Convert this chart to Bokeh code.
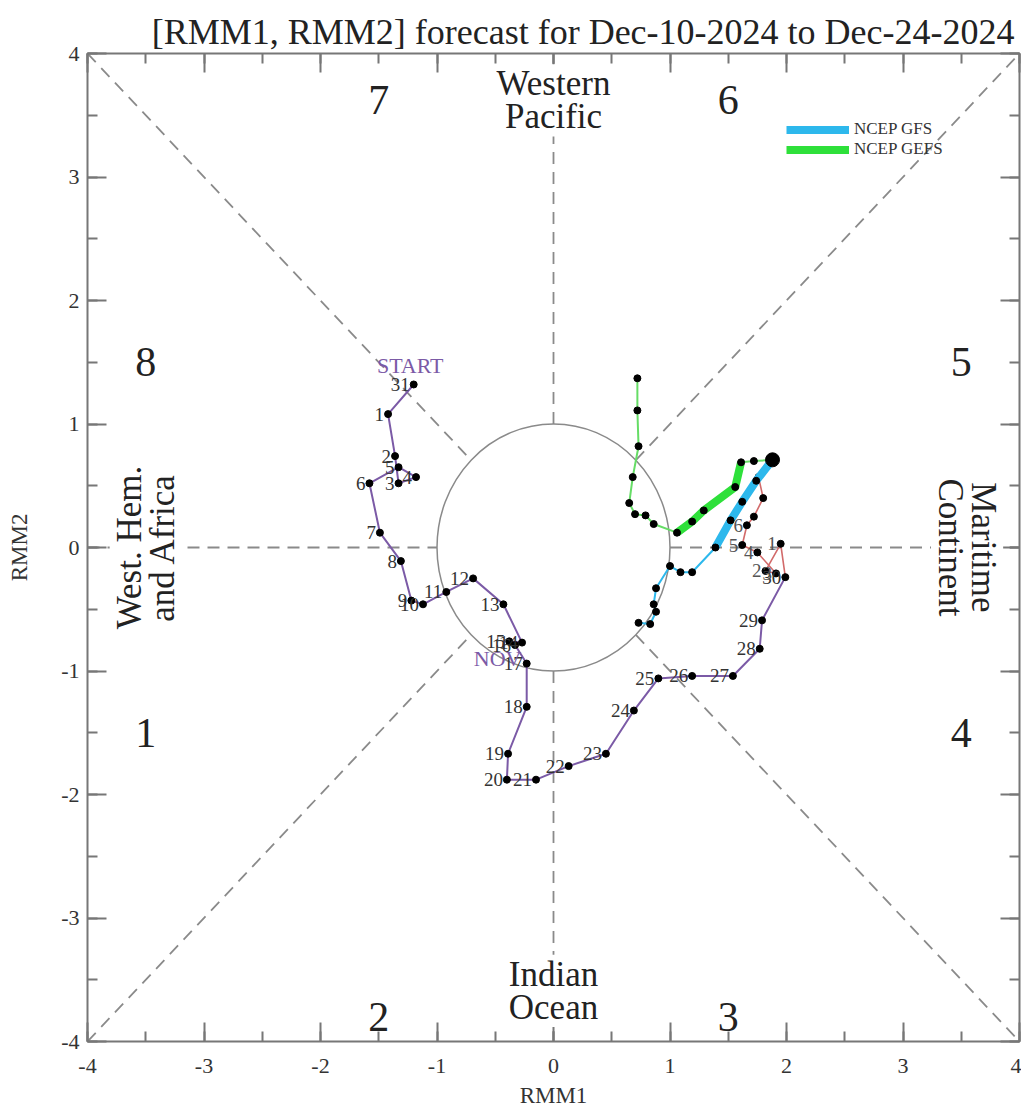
import numpy as np
from bokeh.plotting import figure
from bokeh.models import (Range1d, LinearAxis, SingleIntervalTicker, Label,
                          Legend, LegendItem)
from bokeh.core.properties import value
from bokeh.embed import file_html
from bokeh.resources import INLINE

FONT = "Liberation Serif"

# ---------------- data ----------------
title_text = "[RMM1, RMM2] forecast for Dec-10-2024 to Dec-24-2024"

# observed Oct-31 .. Nov-30 (purple)
nov_days = [31, 1, 2, 3, 4, 5, 6, 7, 8, 9, 10, 11, 12, 13, 14, 15, 16, 17, 18,
            19, 20, 21, 22, 23, 24, 25, 26, 27, 28, 29, 30]
nov_rmm1 = [-1.20, -1.42, -1.36, -1.33, -1.18, -1.33, -1.58, -1.49, -1.31, -1.22,
            -1.12, -0.92, -0.69, -0.43, -0.27, -0.38, -0.33, -0.23, -0.23, -0.39,
            -0.40, -0.15, 0.13, 0.45, 0.69, 0.90, 1.19, 1.54, 1.77, 1.79, 1.99]
nov_rmm2 = [1.32, 1.08, 0.74, 0.52, 0.57, 0.65, 0.52, 0.12, -0.11, -0.43,
            -0.46, -0.36, -0.25, -0.46, -0.77, -0.76, -0.79, -0.94, -1.29, -1.67,
            -1.88, -1.88, -1.77, -1.67, -1.32, -1.06, -1.04, -1.04, -0.82, -0.59, -0.24]

# observed Dec-1 .. Dec-10 (red)
dec_days = [1, 2, 3, 4, 5, 6, 7, 8, 9, 10]
dec_rmm1 = [1.95, 1.82, 1.91, 1.75, 1.62, 1.66, 1.72, 1.80, 1.76, 1.88]
dec_rmm2 = [0.03, -0.19, -0.21, -0.04, 0.02, 0.18, 0.25, 0.40, 0.57, 0.71]
dec_labelled = 6  # labels of later days are hidden under the forecasts

# NCEP GFS forecast
gfs_rmm1 = [1.88, 1.74, 1.62, 1.52, 1.39, 1.19, 1.09, 1.00, 0.88, 0.86, 0.88, 0.83, 0.73]
gfs_rmm2 = [0.71, 0.54, 0.37, 0.22, 0.00, -0.20, -0.20, -0.15, -0.33, -0.46, -0.52, -0.62, -0.61]

# NCEP GEFS forecast
gefs_rmm1 = [1.88, 1.72, 1.61, 1.56, 1.29, 1.19, 1.06, 0.86, 0.79, 0.70, 0.65, 0.68, 0.73, 0.72, 0.72]
gefs_rmm2 = [0.71, 0.70, 0.69, 0.49, 0.30, 0.21, 0.12, 0.19, 0.26, 0.27, 0.36, 0.57, 0.82, 1.11, 1.37]

phase_names = ["1", "2", "3", "4", "5", "6", "7", "8"]
phase_x = [-3.5, -1.5, 1.5, 3.5, 3.5, 1.5, -1.5, -3.5]
phase_y = [-1.5, -3.8, -3.8, -1.5, 1.5, 3.62, 3.62, 1.5]

region_names = ["Western\nPacific", "Indian\nOcean", "West. Hem.\nand Africa", "Maritime\nContinent"]
region_x = [0.0, 0.0, -3.5, 3.55]
region_y = [3.62, -3.59, 0.0, 0.0]
region_angle = [0.0, 0.0, np.pi / 2, -np.pi / 2]

tick_values = [-4, -3, -2, -1, 0, 1, 2, 3, 4]

# ---------------- figure ----------------
p = figure(frame_width=932, frame_height=988, x_range=Range1d(-4, 4), y_range=Range1d(-4, 4),
           output_backend="svg", toolbar_location=None,
           min_border_left=87, min_border_right=2, min_border_top=53, min_border_bottom=58,
           title=title_text)
p.title.align = "right"
p.title.offset = 5
p.title.standoff = 4
p.title.text_font = FONT
p.title.text_font_size = "36px"
p.title.text_font_style = "normal"
p.title.text_color = "#222222"

p.grid.visible = False
p.outline_line_color = "#777777"
p.outline_line_width = 2
p.background_fill_color = "white"
p.border_fill_color = "white"

top_axis = LinearAxis()
right_axis = LinearAxis()
p.add_layout(top_axis, "above")
p.add_layout(right_axis, "right")
bottom_axis = p.below[0]
left_axis = p.left[0]

for ax in [bottom_axis, left_axis, top_axis, right_axis]:
    ax.ticker = SingleIntervalTicker(interval=1, num_minor_ticks=2)
    ax.axis_line_color = None
    ax.major_tick_in = 19
    ax.major_tick_out = 0
    ax.minor_tick_in = 10
    ax.minor_tick_out = 0
    ax.major_tick_line_color = "#777777"
    ax.minor_tick_line_color = "#777777"
    ax.major_tick_line_width = 2
    ax.minor_tick_line_width = 2
    ax.major_label_text_font = FONT
    ax.major_label_text_font_size = "22px"
    ax.major_label_text_color = "#333333"
    ax.axis_label_text_font = FONT
    ax.axis_label_text_font_size = "23px"
    ax.axis_label_text_font_style = "normal"
    ax.axis_label_text_color = "#333333"

for ax in [bottom_axis, left_axis]:
    ax.major_label_overrides = {t: str(t) for t in tick_values}
for ax in [top_axis, right_axis]:
    ax.major_label_overrides = {t: "" for t in tick_values}
    ax.major_label_standoff = 0

bottom_axis.axis_label = "RMM1"
bottom_axis.major_label_standoff = 17
bottom_axis.axis_label_standoff = 7
left_axis.axis_label = "RMM2"
left_axis.major_label_standoff = 8
left_axis.axis_label_standoff = 26

# ---------------- structure: dashed phase dividers + unit circle ----------------
r = 1 / np.sqrt(2)
div_x0 = [-4, r, -4, r, -4, 1, 0, 0]
div_y0 = [4, r, -4, -r, 0, 0, 1, -1]
div_x1 = [-r, 4, -r, 4, -1, 4, 0, 0]
div_y1 = [r, 4, -r, -4, 0, 0, 4, -4]
p.segment(div_x0, div_y0, div_x1, div_y1, line_color="#8a8a8a", line_width=1.8,
          line_dash="12 8")
p.ellipse(x=[0], y=[0], width=[2], height=[2], fill_color=None,
          line_color="#8a8a8a", line_width=1.5)

# phase numbers
p.text(x=phase_x, y=phase_y, text=phase_names, text_font=value(FONT),
       text_font_size="42px", text_color="#222222", text_align="center",
       text_baseline="middle")

# region labels (white background covers dashes)
for name, rx, ry, ang in zip(region_names, region_x, region_y, region_angle):
    p.add_layout(Label(x=rx, y=ry, text=name, angle=ang, text_font=FONT,
                       text_font_size="35px", text_color="#222222",
                       text_align="center", text_baseline="middle",
                       background_fill_color="white", text_line_height=0.85))

# ---------------- observed tracks ----------------
purple = "#7b5aa6"
red = "#d26a6a"
p.line(nov_rmm1, nov_rmm2, line_color=purple, line_width=2)
p.line([nov_rmm1[-1]] + dec_rmm1, [nov_rmm2[-1]] + dec_rmm2, line_color=red, line_width=1.6)
p.scatter(nov_rmm1, nov_rmm2, size=7, color="black")
p.scatter(dec_rmm1, dec_rmm2, size=7, color="black")
p.text(x=nov_rmm1, y=nov_rmm2, text=[str(d) for d in nov_days], x_offset=-4,
       text_font=value(FONT), text_font_size="19px", text_color="#333333",
       text_align="right", text_baseline="middle")
p.text(x=dec_rmm1[:dec_labelled], y=dec_rmm2[:dec_labelled],
       text=[str(d) for d in dec_days[:dec_labelled]], x_offset=-4,
       text_font=value(FONT), text_font_size="19px", text_color="#555555",
       text_align="right", text_baseline="middle")

p.text(x=[nov_rmm1[0] - 0.03], y=[nov_rmm2[0] + 0.15], text=["START"],
       text_font=value(FONT), text_font_size="22px", text_color=purple,
       text_align="center", text_baseline="middle")
p.text(x=[nov_rmm1[17] - 0.25], y=[nov_rmm2[17] + 0.04], text=["NOV"],
       text_font=value(FONT), text_font_size="22px", text_color=purple,
       text_align="center", text_baseline="middle")

# ---------------- forecasts ----------------
blue = "#2db8ec"
green = "#2ee03a"
p.line(gefs_rmm1, gefs_rmm2, line_color="#66dd66", line_width=2)
g_thick = p.line(gefs_rmm1[2:7], gefs_rmm2[2:7], line_color=green, line_width=8)
p.line(gfs_rmm1, gfs_rmm2, line_color=blue, line_width=2)
b_thick = p.line(gfs_rmm1[0:5], gfs_rmm2[0:5], line_color=blue, line_width=8)
p.scatter(gefs_rmm1, gefs_rmm2, size=7, color="black")
p.scatter(gfs_rmm1, gfs_rmm2, size=7, color="black")
p.scatter([gfs_rmm1[0]], [gfs_rmm2[0]], size=14, color="black")

legend = Legend(items=[LegendItem(label="NCEP GFS", renderers=[b_thick]),
                       LegendItem(label="NCEP GEFS", renderers=[g_thick])],
                location=(699, 882), border_line_color=None, background_fill_alpha=0,
                glyph_width=63, glyph_height=15, label_height=15, spacing=0,
                padding=4, label_standoff=5, margin=0,
                label_text_font=FONT, label_text_font_size="17px",
                label_text_color="#333333")
p.add_layout(legend)

open("out.html", "w").write(file_html(p, INLINE))
